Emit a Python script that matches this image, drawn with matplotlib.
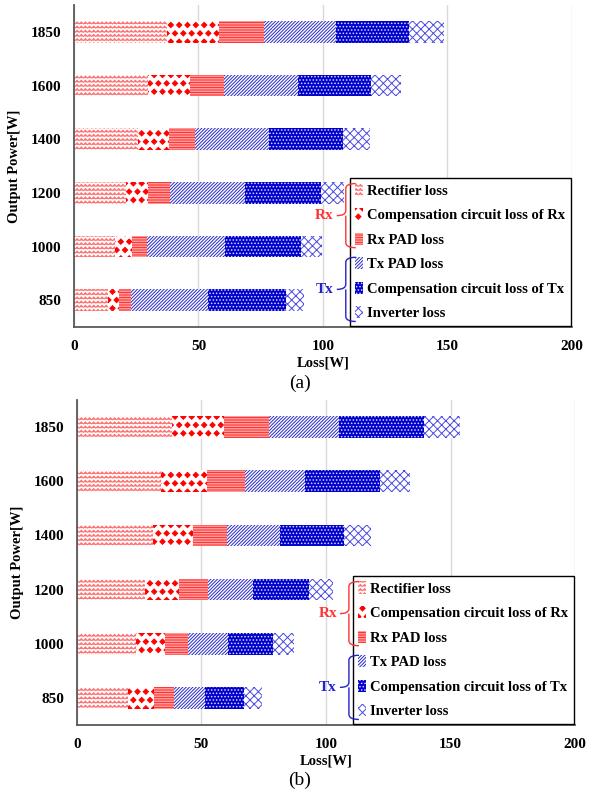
import numpy as np
import matplotlib
matplotlib.use("Agg")
import matplotlib.pyplot as plt
import matplotlib.hatch as mhatch
from matplotlib.path import Path
from matplotlib.patches import Patch, PathPatch
from matplotlib.transforms import IdentityTransform

# --- data -------------------------------------------------------------
powers = ["850", "1000", "1200", "1400", "1600", "1850"]
loss_names = ["Rectifier loss", "Compensation circuit loss of Rx", "Rx PAD loss",
              "Tx PAD loss", "Compensation circuit loss of Tx", "Inverter loss"]

# panel (a), values per output power (850 ... 1850)
a_rectifier = [13.5, 16.5, 20.9, 25.6, 29.8, 37.2]
a_comp_rx = [4.7, 6.7, 8.9, 12.7, 16.8, 21.0]
a_rx_pad = [4.7, 6.2, 8.8, 10.3, 13.6, 18.2]
a_tx_pad = [31.0, 31.2, 30.1, 29.8, 29.6, 28.8]
a_comp_tx = [31.1, 30.6, 30.5, 29.8, 29.3, 29.3]
a_inverter = [7.5, 8.3, 9.3, 10.7, 12.2, 14.1]

# panel (b)
b_rectifier = [20.7, 23.8, 27.2, 30.5, 33.9, 38.2]
b_comp_rx = [10.1, 11.4, 13.9, 16.1, 18.3, 21.0]
b_rx_pad = [8.3, 9.4, 11.4, 13.6, 15.4, 17.8]
b_tx_pad = [12.4, 15.9, 18.4, 21.4, 24.1, 28.3]
b_comp_tx = [15.7, 18.1, 22.1, 25.7, 29.8, 34.2]
b_inverter = [7.3, 8.7, 9.7, 10.9, 12.4, 14.4]

x_ticks = [0, 50, 100, 150, 200]


# --- custom hatches: zigzag ('z') and filled diamonds ('d') ------------
class ZigZag(mhatch.HatchPatternBase):
    def __init__(self, hatch, density):
        self.num_lines = int(hatch.count('z') * density)
        self.teeth = self.num_lines
        self.num_vertices = self.num_lines * (2 * self.teeth + 1)

    def set_vertices_and_codes(self, vertices, codes):
        n, t = self.num_lines, self.teeth
        k = 2 * t + 1
        xs = np.linspace(0, 1, k)
        amp = 0.25 / n
        sign = (np.arange(k) % 2) * 2 - 1
        for i in range(n):
            sl = slice(i * k, (i + 1) * k)
            vertices[sl, 0] = xs
            vertices[sl, 1] = (i + 0.5) / n + amp * sign
            codes[sl] = Path.LINETO
            codes[i * k] = Path.MOVETO


class Diamonds(mhatch.Shapes):
    size = 0.32
    filled = True

    def __init__(self, hatch, density):
        self.num_rows = int(hatch.count('d') * density)
        p = Path([(0, 1), (1, 0), (0, -1), (-1, 0), (0, 1)], closed=True)
        self.shape_vertices = p.vertices
        self.shape_codes = p.codes
        super().__init__(hatch, density)


mhatch._hatch_types.extend([ZigZag, Diamonds])
mhatch._validate_hatch_pattern = lambda hatch: None

plt.rcParams['font.family'] = ['Liberation Serif', 'DejaVu Serif']
plt.rcParams['hatch.linewidth'] = 0.7

styles = [
    dict(facecolor="white", edgecolor="#FF7070", hatch="zzzz"),
    dict(facecolor="white", edgecolor="#FF0000", hatch="dd"),
    dict(facecolor="#FFC8C8", edgecolor="#FF3333", hatch="----------"),
    dict(facecolor="white", edgecolor="#2828C8", hatch="//////////"),
    dict(facecolor="#0000CC", edgecolor="#D8D8FF", hatch="....."),
    dict(facecolor="white", edgecolor="#4B4BE0", hatch="xxxx"),
]


def draw_panel(ax, series):
    y = np.arange(len(powers))
    left = np.zeros(len(powers))
    for vals, st in zip(series, styles):
        ax.barh(y, vals, left=left, height=0.4, linewidth=0, **st)
        left += np.array(vals)
    ax.set_yticks(y)
    ax.set_yticklabels(powers)
    ax.set_ylim(-0.5, len(powers) - 0.5)
    ax.set_xlim(0, 200)
    ax.set_xticks(x_ticks)
    ax.grid(axis="x", color="#D9D9D9", linewidth=1)
    ax.set_axisbelow(True)
    for s in ["top", "right"]:
        ax.spines[s].set_visible(False)
    for s in ["left", "bottom"]:
        ax.spines[s].set_color("#595959")
        ax.spines[s].set_linewidth(1.3)
    ax.tick_params(length=0, labelsize=11, pad=9)
    for lab in ax.get_xticklabels() + ax.get_yticklabels():
        lab.set_fontweight("bold")
    ax.set_xlabel("Loss[W]", fontsize=10.5, fontweight="bold", labelpad=3)
    ax.set_ylabel("Output Power[W]", fontsize=10.5, fontweight="bold", labelpad=7)
    handles = [Patch(linewidth=0, **st) for st in styles]
    leg = ax.legend(handles, loss_names, loc="lower right", bbox_to_anchor=(1.0, 0.0),
                    fancybox=False, edgecolor="black", framealpha=1,
                    prop=dict(weight="bold", size=10.5), handlelength=0.55,
                    handleheight=0.9, handletextpad=0.3, labelspacing=0.72,
                    borderpad=0.35, borderaxespad=0.1)
    leg.get_frame().set_linewidth(1.0)
    return leg


fig = plt.figure(figsize=(6.0, 7.99), dpi=100)
ax_a = fig.add_axes([0.1233, 0.5907, 0.83, 0.403])
ax_b = fig.add_axes([0.128, 0.0926, 0.8305, 0.4068])

leg_a = draw_panel(ax_a, [a_rectifier, a_comp_rx, a_rx_pad, a_tx_pad, a_comp_tx, a_inverter])
leg_b = draw_panel(ax_b, [b_rectifier, b_comp_rx, b_rx_pad, b_tx_pad, b_comp_tx, b_inverter])

fig.text(0.5, 1 - 383 / 799, "(a)", ha="center", va="center", fontsize=14)
fig.text(0.5, 1 - 780 / 799, "(b)", ha="center", va="center", fontsize=14)

# curly braces grouping Rx / Tx legend entries
fig.canvas.draw()
renderer = fig.canvas.get_renderer()


def brace(x_tip, x_line, x_end, y_top, y_bot, color):
    ym = (y_top + y_bot) / 2
    r = 5
    verts = [(x_end, y_top), (x_line, y_top), (x_line, y_top - r),
             (x_line, ym + r), (x_line, ym), (x_tip, ym),
             (x_line, ym), (x_line, ym - r),
             (x_line, y_bot + r), (x_line, y_bot), (x_end, y_bot)]
    codes = [Path.MOVETO, Path.CURVE3, Path.CURVE3,
             Path.LINETO, Path.CURVE3, Path.CURVE3,
             Path.MOVETO, Path.LINETO,
             Path.LINETO, Path.CURVE3, Path.CURVE3]
    fig.add_artist(PathPatch(Path(verts, codes), transform=IdentityTransform(),
                             facecolor="none", edgecolor=color, linewidth=1.0))


for leg in [leg_a, leg_b]:
    texts = [t.get_window_extent(renderer) for t in leg.get_texts()]
    box = leg.get_frame().get_window_extent(renderer)
    x_line = box.x0 - 4
    for grp, color, label in [(texts[:3], "#FF3333", "Rx"), (texts[3:], "#2222CC", "Tx")]:
        y_top = grp[0].y1 + 1
        y_bot = grp[-1].y0 - 1
        brace(x_line - 9, x_line, box.x0 + 6, y_top, y_bot, color)
        ym = (y_top + y_bot) / 2
        fig.text(x_line - 12, ym, label, transform=IdentityTransform(), ha="right",
                 va="center", color=color, fontsize=11, fontweight="bold")

fig.savefig("out.png", dpi=100)
